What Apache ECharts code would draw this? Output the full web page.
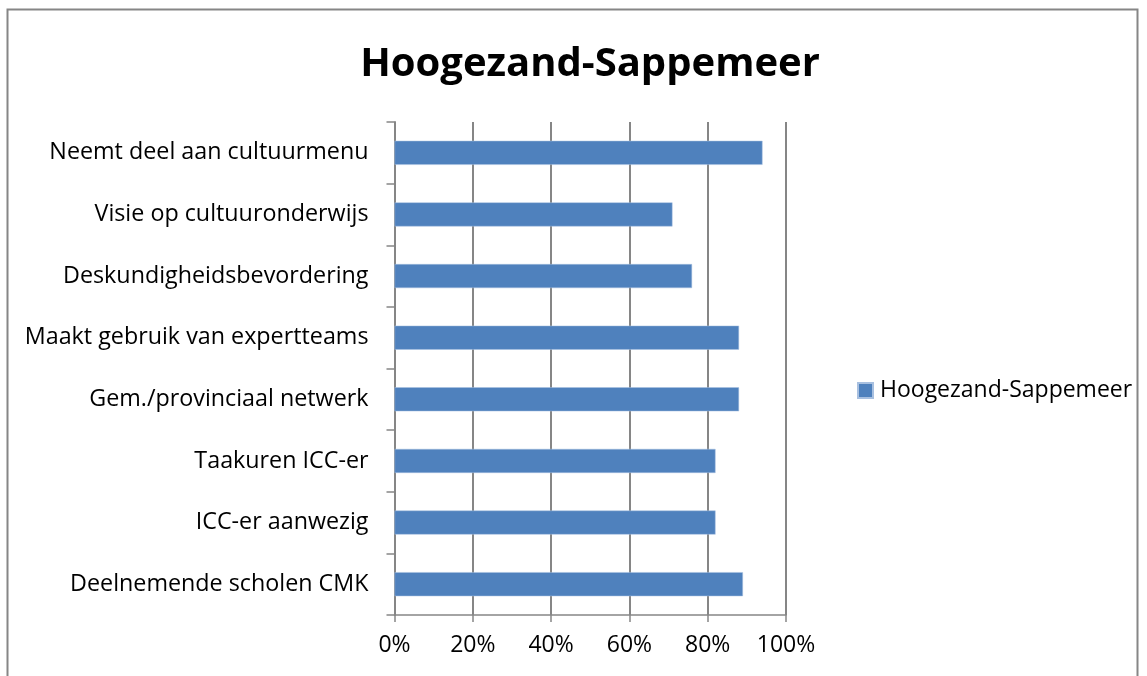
<!DOCTYPE html>
<html>
<head>
<meta charset="utf-8">
<script src="https://cdn.jsdelivr.net/npm/echarts@6/dist/echarts.min.js"></script>
<style>
  html, body { margin: 0; padding: 0; background: #fff; }
  #chart { width: 1147px; height: 676px; }
</style>
</head>
<body>
<div id="chart"></div>
<script>
// categories from top to bottom, as in the picture
var categories = [
  'Neemt deel aan cultuurmenu',
  'Visie op cultuuronderwijs',
  'Deskundigheidsbevordering',
  'Maakt gebruik van expertteams',
  'Gem./provinciaal netwerk',
  'Taakuren ICC-er',
  'ICC-er aanwezig',
  'Deelnemende scholen CMK'
]
var values = [94, 71, 76, 88, 88, 82, 82, 89] // percent
var seriesName = 'Hoogezand-Sappemeer'
var xTicks = [0, 20, 40, 60, 80, 100]

var chart = echarts.init(document.getElementById('chart'))
var option = {
  backgroundColor: '#fff',
  animation: false,
  title: {
    text: 'Hoogezand-Sappemeer',
    left: 585,
    top: 40,
    textAlign: 'center',
    textStyle: {
      fontFamily: 'Open Sans',
      fontSize: 40,
      fontWeight: 'bold',
      color: '#000'
    }
  },
  legend: {
    data: [seriesName],
    left: 852,
    top: 374,
    itemWidth: 15,
    itemHeight: 15,
    itemGap: 8,
    icon: 'rect',
    textStyle: {
      fontFamily: 'Open Sans',
      fontSize: 23,
      color: '#000',
      padding: [0, 0, 0, 2]
    }
  },
  grid: {
    left: 394.5,
    right: 361,
    top: 122,
    bottom: 61,
    containLabel: false
  },
  xAxis: {
    type: 'value',
    min: 0,
    max: 100,
    interval: 20,
    axisLine: { show: true, lineStyle: { color: '#868686', width: 1.5 } },
    axisTick: { show: true, length: 7, lineStyle: { color: '#868686', width: 1.5 } },
    splitLine: { show: true, lineStyle: { color: '#868686', width: 2 } },
    axisLabel: {
      margin: 19,
      fontFamily: 'Open Sans',
      fontSize: 23,
      color: '#000',
      formatter: function (v) { return xTicks.indexOf(v) >= 0 ? v + '%' : '' }
    }
  },
  yAxis: {
    type: 'category',
    inverse: true,
    data: categories,
    axisLine: { show: true, lineStyle: { color: '#868686', width: 2 } },
    axisTick: { show: true, length: 8, lineStyle: { color: '#868686', width: 1.5 } },
    axisLabel: {
      margin: 26,
      fontFamily: 'Open Sans',
      fontSize: 23.3,
      color: '#000'
    }
  },
  series: [{
    name: seriesName,
    type: 'bar',
    data: values,
    barCategoryGap: '61%',
    itemStyle: { color: '#4f81bd', borderColor: '#a8c0e0', borderWidth: 0.5 }
  }],
  graphic: [{
    type: 'rect',
    shape: { x: 7.5, y: 9.5, width: 1130, height: 700 },
    style: { fill: 'none', stroke: '#868686', lineWidth: 2 },
    silent: true
  }]
}
chart.setOption(option)
</script>
</body>
</html>
